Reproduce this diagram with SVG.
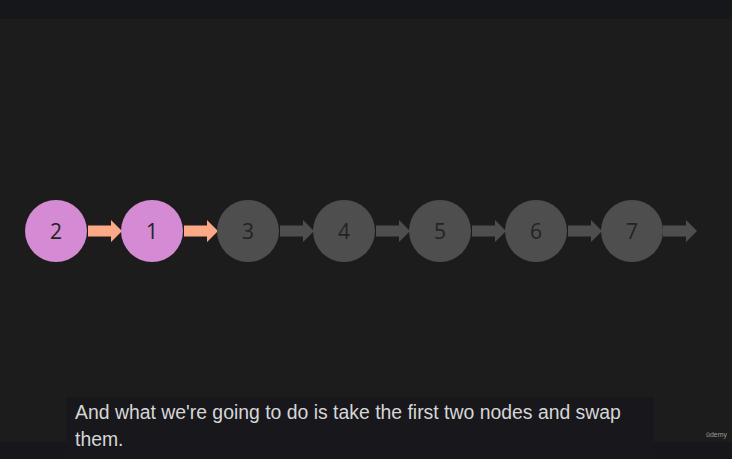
<svg xmlns="http://www.w3.org/2000/svg" width="732" height="459" viewBox="0 0 732 459">
<defs>
<style>
.pink{fill:#d58ad4}
.gray{fill:#4e4e4e}
.num{font-family:"Open Sans","Noto Sans",sans-serif;font-size:21px;fill:#232323;text-anchor:middle;dominant-baseline:central}
.arrP{fill:#fda988}
.arrG{fill:#4e4e4e}
.cap{font-family:"Liberation Sans",Arial,sans-serif;font-size:19.4px;fill:#d6d6d6}
</style>
<path id="arrow" d="M0,-5.5 H23 V-11 L34,0 L23,11 V5.5 H0 Z"/>
</defs>
<rect width="732" height="459" fill="#1c1c1c"/>
<rect width="732" height="19" fill="#16171b"/>
<rect y="442" width="732" height="17" fill="#17171b"/>
<rect x="66" y="397" width="588" height="62" fill="#18181c"/>
<g id="connectors">
<use href="#arrow" class="arrP" x="88" y="231"/>
<use href="#arrow" class="arrP" x="184" y="231"/>
<use href="#arrow" class="arrG" x="280" y="231"/>
<use href="#arrow" class="arrG" x="376" y="231"/>
<use href="#arrow" class="arrG" x="472" y="231"/>
<use href="#arrow" class="arrG" x="568" y="231"/>
<use href="#arrow" class="arrG" x="663" y="231"/>
</g>
<g id="node2"><circle class="pink" cx="56" cy="231" r="31"/><text class="num" x="56" y="231">2</text></g>
<g id="node1"><circle class="pink" cx="152" cy="231" r="31"/><text class="num" x="152" y="231">1</text></g>
<g id="node3"><circle class="gray" cx="248" cy="231" r="31"/><text class="num" x="248" y="231">3</text></g>
<g id="node4"><circle class="gray" cx="344" cy="231" r="31"/><text class="num" x="344" y="231">4</text></g>
<g id="node5"><circle class="gray" cx="440" cy="231" r="31"/><text class="num" x="440" y="231">5</text></g>
<g id="node6"><circle class="gray" cx="536" cy="231" r="31"/><text class="num" x="536" y="231">6</text></g>
<g id="node7"><circle class="gray" cx="632" cy="231" r="31"/><text class="num" x="632" y="231">7</text></g>
<text class="cap" x="75" y="419">And what we're going to do is take the first two nodes and swap</text>
<text class="cap" x="75" y="446">them.</text>
<text x="706" y="437" font-family="Liberation Sans,Arial,sans-serif" font-size="7" fill="#9a9a9a">ûdemy</text>
</svg>
